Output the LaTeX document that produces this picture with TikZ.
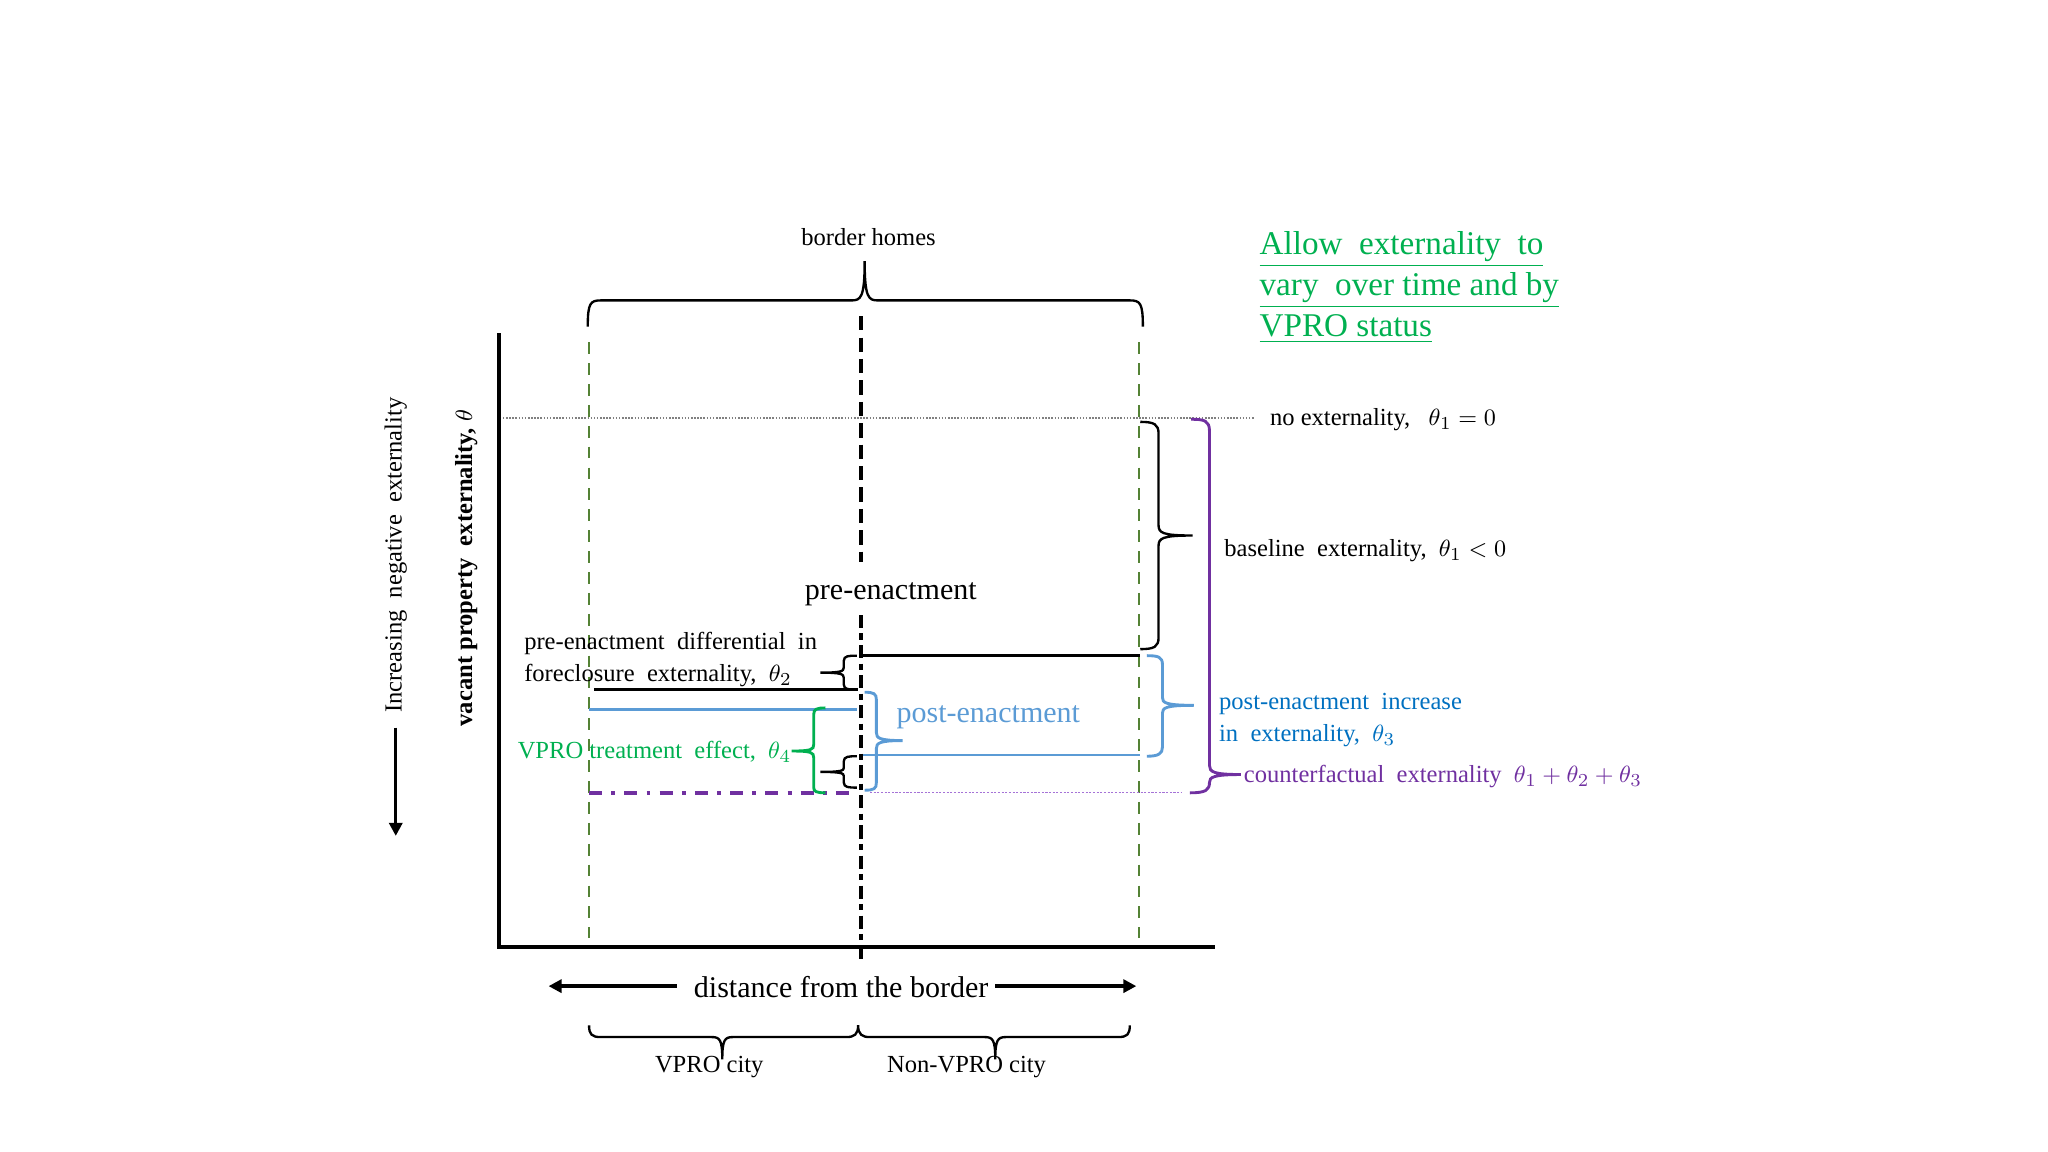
\documentclass[tikz,border=0pt]{standalone}
\usepackage{fontspec}
\setmainfont{Liberation Serif}
\usetikzlibrary{arrows.meta}
\definecolor{olivegreen}{RGB}{84,130,53}
\definecolor{vgreen}{RGB}{0,176,80}
\definecolor{lblue}{RGB}{91,155,213}
\definecolor{dblue}{RGB}{0,112,192}
\definecolor{vpurple}{RGB}{112,48,160}
\definecolor{lpurple}{RGB}{165,115,215}
\begin{document}
\begin{tikzpicture}[x=0.5pt,y=-0.5pt,
  axis/.style={line width=1.6pt},
  gdash/.style={olivegreen, line width=0.75pt, dash pattern=on 4.5pt off 3.5pt},
  borderA/.style={line width=1.5pt, dash pattern=on 5.5pt off 2.7pt},
  borderB/.style={line width=1.5pt, dash pattern=on 5pt off 2pt on 2.5pt off 2pt},
  brc/.style={line width=0.9pt},
  lvl/.style={line width=1pt},
  small/.style={font=\fontsize{9.4}{11}\selectfont, inner sep=0pt},
  big/.style={font=\fontsize{11.5}{13}\selectfont, inner sep=0pt},
  fat/.style={line width=1.3pt, -{Triangle[length=5pt,width=5pt]}},
]
\useasboundingbox (0,0) rectangle (1568,882);

% axes
\coordinate (yT) at (382,255);
\coordinate (O) at (382,725);
\coordinate (xR) at (930,725);
\draw[axis] (yT) -- (O) -- (xR);

% green dashed bounds of border homes
\coordinate (gLt) at (451,262); \coordinate (gLb) at (451,718);
\coordinate (gRt) at (872,262); \coordinate (gRb) at (872,718);
\draw[gdash] (gLt) -- (gLb);
\draw[gdash] (gRt) -- (gRb);

% border line
\coordinate (bA1) at (659,242); \coordinate (bA2) at (659,430);
\coordinate (bB1) at (659,471); \coordinate (bB2) at (659,737);
\draw[borderA] (bA1) -- (bA2);
\draw[borderB] (bB1) -- (bB2);

% no externality line
\coordinate (n1) at (385,320); \coordinate (n2) at (960,320);
\draw[gray, line width=0.5pt, dash pattern=on 0.6pt off 0.6pt] (n1) -- (n2);

% levels
\draw[lvl] (659,502) -- (873,502);
\draw[lvl] (455,528) -- (657,528);
\draw[lvl, lblue] (451,543) -- (656,543);
\draw[lvl, lblue] (661,578) -- (873,578);
\draw[vpurple, line width=1.3pt, dash pattern=on 5pt off 3.5pt on 1.5pt off 3.5pt] (451,607) -- (655,607);
\draw[lpurple, line width=0.5pt, dash pattern=on 0.8pt off 0.6pt] (666,607) -- (905,607);

% top brace (border homes)
\draw[brc] (450,250) .. controls (450,232) and (452,230) .. (460,230) -- (652,230)
  .. controls (659,230) and (662,228) .. (662,200)
  .. controls (662,228) and (665,230) .. (672,230) -- (865,230)
  .. controls (873,230) and (875,232) .. (875,250);

% baseline brace
\draw[brc] (873,323) .. controls (884,323) and (887,325) .. (887,332) -- (887,402)
  .. controls (887,408) and (890,410) .. (913,410)
  .. controls (890,410) and (887,412) .. (887,418) -- (887,488)
  .. controls (887,495) and (884,497) .. (873,497);

% purple bracket
\draw[vpurple, line width=1.1pt] (912,321) .. controls (922,321) and (926,322) .. (926,330) -- (926,586)
  .. controls (926,591) and (929,593) .. (950,593)
  .. controls (929,593) and (926,595) .. (926,599)
  .. controls (926,605) and (923,607) .. (911,607);

% right blue brace
\draw[lblue, line width=1.1pt] (878,502) .. controls (887,502) and (890,503) .. (890,509) -- (890,534)
  .. controls (890,538) and (892,540) .. (914,540)
  .. controls (892,540) and (890,542) .. (890,546) -- (890,572)
  .. controls (890,577) and (887,579) .. (878,579);

% middle light-blue brace
\draw[lblue, line width=1.1pt] (662,530) .. controls (669,530) and (671,531) .. (671,536) -- (671,561)
  .. controls (671,565) and (673,567) .. (691,567)
  .. controls (673,567) and (671,569) .. (671,573) -- (671,599)
  .. controls (671,604) and (669,605) .. (662,605);

% small black braces
\draw[brc] (656,502) .. controls (650,502) and (646,502) .. (646,506) -- (646,511)
  .. controls (646,514) and (644,515) .. (628,515)
  .. controls (644,515) and (646,516) .. (646,519) -- (646,524)
  .. controls (646,528) and (650,528) .. (656,528);
\draw[brc] (656,579) .. controls (650,579) and (646,579) .. (646,583) -- (646,588)
  .. controls (646,590) and (644,591) .. (628,591)
  .. controls (644,591) and (646,592) .. (646,594) -- (646,599)
  .. controls (646,603) and (650,603) .. (656,603);

% green bracket
\draw[vgreen, line width=1.1pt] (632,542) .. controls (625,542) and (623,543) .. (623,547) -- (623,570)
  .. controls (623,574) and (621,575) .. (606,575)
  .. controls (621,575) and (623,576) .. (623,580) -- (623,603)
  .. controls (623,606) and (625,607) .. (632,607);

% bottom braces
\draw[brc] (451,785) .. controls (451,792) and (453,794) .. (460,794) -- (545,794)
  .. controls (551,794) and (553,796) .. (553,811)
  .. controls (553,796) and (555,794) .. (561,794) -- (648,794)
  .. controls (654,794) and (657,792) .. (657,785)
  .. controls (657,792) and (660,794) .. (666,794) -- (754,794)
  .. controls (760,794) and (762,796) .. (762,811)
  .. controls (762,796) and (764,794) .. (770,794) -- (856,794)
  .. controls (863,794) and (865,792) .. (865,785);

% arrows
\coordinate (aL1) at (518,755); \coordinate (aL2) at (420,755);
\coordinate (aR1) at (762,755); \coordinate (aR2) at (870,755);
\coordinate (aD1) at (303,557); \coordinate (aD2) at (303,640);
\draw[fat] (aL1) -- (aL2);
\draw[fat] (aR1) -- (aR2);
\draw[fat] (aD1) -- (aD2);

% texts
\node[small, anchor=base] (bh) at (665,188) {border homes};
\node[font=\fontsize{12.7}{15.7}\selectfont, text=vgreen, anchor=base west, inner sep=0pt] (al1) at (964,195) {\underline{Allow\ \ externality\ \ to}};
\node[font=\fontsize{12.7}{15.7}\selectfont, text=vgreen, anchor=base west, inner sep=0pt] (al2) at (964,226.5) {\underline{vary\ \ over time and by}};
\node[font=\fontsize{12.7}{15.7}\selectfont, text=vgreen, anchor=base west, inner sep=0pt] (al3) at (964,258) {\underline{VPRO status}};
\node[small, anchor=base west] (noext) at (972,326) {no externality,\ \ \ $\theta_1 = 0$};
\node[small, anchor=base west] (base) at (937,426) {baseline\ \ externality,\ \ $\theta_1 < 0$};
\node[big, anchor=base] (pre) at (682,459) {pre-enactment};
\node[small, anchor=base west] (d1) at (401,497) {pre-enactment\ \ differential\ \ in};
\node[small, anchor=base west] (d2) at (401,522) {foreclosure\ \ externality,\ \ $\theta_2$};
\node[big, anchor=base west, text=lblue] (post) at (686,553) {post-enactment};
\node[small, anchor=base west, text=dblue] (pi1) at (933,543) {post-enactment\ \ increase};
\node[small, anchor=base west, text=dblue] (pi2) at (933,568) {in\ \ externality,\ \ $\theta_3$};
\node[small, anchor=base west, text=vgreen] (vt) at (396,581) {VPRO treatment\ \ effect,\ \ $\theta_4$};
\node[small, anchor=base west, text=vpurple] (cf) at (952,599) {counterfactual\ \ externality\ \ $\theta_1+\theta_2+\theta_3$};
\node[small, rotate=90, font=\fontsize{9.4}{11}\selectfont\bfseries] (ylab) at (357,435) {vacant property\ \ externality, $\theta$};
\node[small, rotate=90] (inc) at (303,425) {Increasing\ \ negative\ \ externality};
\node[big, anchor=base] (dist) at (644,764) {distance from the border};
\node[small, anchor=base] (vc) at (543,821) {VPRO city};
\node[small, anchor=base] (nvc) at (740,821) {Non-VPRO city};
\end{tikzpicture}
\end{document}
